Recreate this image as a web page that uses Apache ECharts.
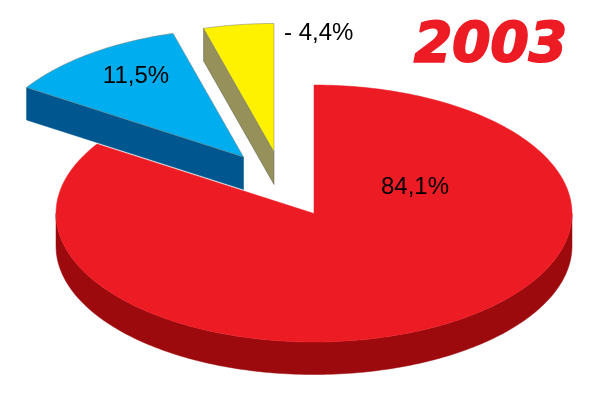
<!DOCTYPE html>
<html>
<head>
<meta charset="utf-8">
<style>html,body{margin:0;padding:0;background:#fff}#c{width:600px;height:400px}</style>
<script src="https://cdn.jsdelivr.net/npm/echarts@6/dist/echarts.min.js"></script>
</head>
<body>
<div id="c"></div>
<script>
var categories = ['Main', 'Blue', 'Yellow'];
var shares = [84.1, 11.5, 4.4];
var sliceLabels = ['84,1%', '11,5%', '- 4,4%'];
var chartTitle = '2003';

var topColors = ['#ED1C24', '#00AEEF', '#FFF200'];
var sideColors = ['#9C0A0E', '#00568F', '#96905A'];
var sideLines = ['#9C0A0E', '#00568F', '#5a5a50'];
var apexes = [[314, 213.5], [243.5, 157], [274, 152]];
var labelSpots = [[415, 187, 'center'], [136, 76, 'center'], [284, 33, 'left']];
var RX = 258, RY = 128.5, DEPTH = 32.5;

var total = shares.reduce(function (a, b) { return a + b; }, 0);
var startFractions = [];
shares.reduce(function (acc, v, i) { startFractions[i] = acc; return acc + v; }, 0);

function pt(c, deg, dy) {
  var r = deg * Math.PI / 180;
  return [c[0] + RX * Math.sin(r), c[1] - RY * Math.cos(r) + (dy || 0)];
}
function arc(c, a0, a1, dy) {
  var out = [], n = Math.max(2, Math.ceil(Math.abs(a1 - a0)));
  for (var i = 0; i <= n; i++) out.push(pt(c, a0 + (a1 - a0) * i / n, dy));
  return out;
}
function poly(points, fill, line, z) {
  return {
    type: 'polygon', z2: z, silent: true,
    shape: { points: points },
    style: { fill: fill, stroke: line, lineWidth: 0.5 }
  };
}

function renderItem(params, api) {
  var i = params.dataIndex;
  var v = api.value(1), s = api.value(2);
  var a0 = s / total * 360, a1 = (s + v) / total * 360;
  var c = apexes[i];
  var kids = [];
  if (a0 < 270 && a1 > 90) {
    // curved outer wall (front half only)
    var w0 = Math.max(a0, 90), w1 = Math.min(a1, 270);
    var wall = arc(c, w0, w1, 0).concat(arc(c, w1, w0, DEPTH));
    kids.push(poly(wall, sideColors[i], sideLines[i], 1));
  } else {
    // straight cut face seen from the front
    var tip = pt(c, a0, 0);
    var face = [tip, c, [c[0], c[1] + DEPTH], [tip[0], tip[1] + DEPTH]];
    kids.push(poly(face, sideColors[i], sideLines[i], 1));
  }
  var top = [c].concat(arc(c, a0, a1, 0));
  kids.push(poly(top, topColors[i], i === 0 ? topColors[i] : '#7a7a70', 2));
  var spot = labelSpots[i];
  kids.push({
    type: 'text', z2: 3, silent: true,
    style: {
      x: spot[0], y: spot[1], text: sliceLabels[i], align: spot[2], verticalAlign: 'middle',
      font: '24px "Liberation Sans"', fill: '#000'
    }
  });
  return { type: 'group', children: kids };
}

var chart = echarts.init(document.getElementById('c'), null, { renderer: 'canvas' });
chart.setOption({
  animation: false,
  backgroundColor: '#fff',
  title: {
    text: chartTitle, left: 414, top: 19, padding: 0,
    textStyle: {
      fontFamily: 'DejaVu Sans', fontWeight: 'bold', fontStyle: 'italic',
      fontSize: 55, color: '#ED1C24', textBorderColor: '#ED1C24', textBorderWidth: 2
    }
  },
  series: [{
    type: 'custom',
    coordinateSystem: 'none',
    renderItem: renderItem,
    data: categories.map(function (n, i) { return [n, shares[i], startFractions[i]]; }),
    encode: {}
  }]
});
</script>
</body>
</html>
